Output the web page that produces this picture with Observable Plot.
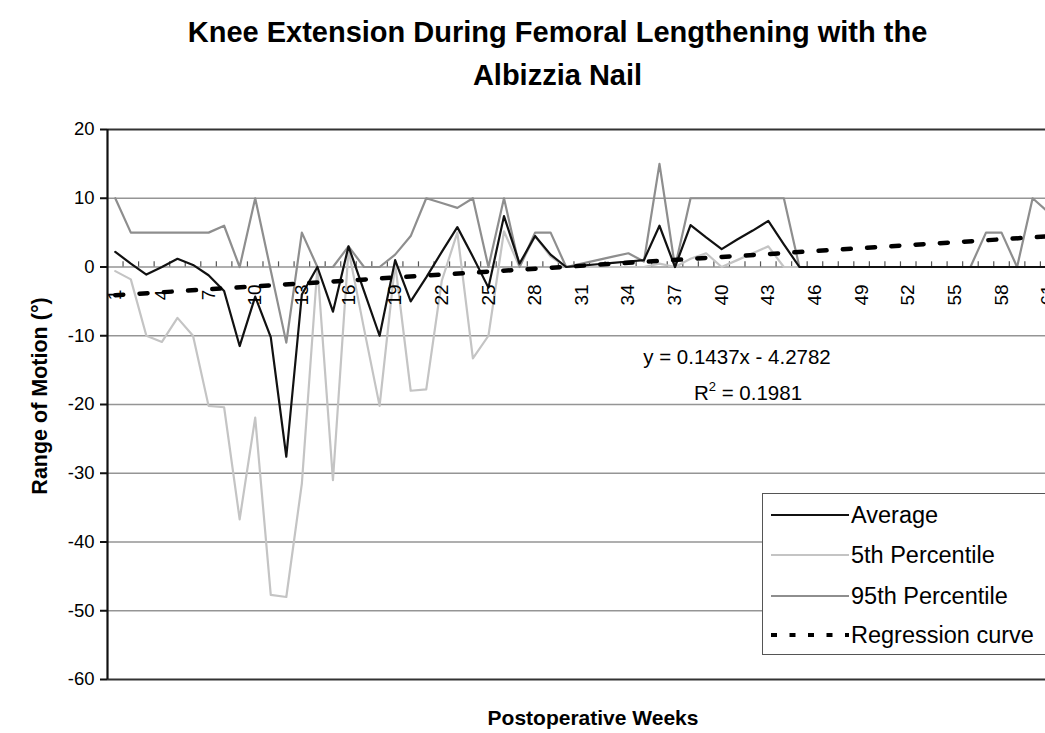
<!DOCTYPE html>
<html><head><meta charset="utf-8">
<script src="https://cdn.jsdelivr.net/npm/d3@7"></script>
<script src="https://cdn.jsdelivr.net/npm/@observablehq/plot@0.6"></script>
<style>
html,body{margin:0;padding:0;overflow:hidden;background:#fff;}
#wrap{position:relative;width:1115px;height:733px;font-family:"Liberation Sans",Arial,sans-serif;color:#000;}
#title{position:absolute;left:0;width:1115px;top:11px;text-align:center;font-weight:bold;font-size:29px;line-height:43px;z-index:2;}
#chart{position:absolute;left:0;top:0;z-index:1;}
.ylab{position:absolute;left:40px;top:396px;transform:translate(-50%,-50%) rotate(-90deg);font-weight:bold;font-size:21.5px;white-space:nowrap;z-index:2;}
.xlab{position:absolute;left:593px;top:718px;transform:translate(-50%,-50%);font-weight:bold;font-size:21px;white-space:nowrap;z-index:2;}
.eq{position:absolute;transform:translate(-50%,-50%);font-size:20.5px;white-space:nowrap;z-index:2;}
.eq sup{font-size:13px;vertical-align:9px;line-height:0;}
#legend{position:absolute;left:762px;top:493px;width:300px;height:162px;border:1.5px solid #555;background:#fff;box-sizing:border-box;z-index:2;}
.lrow{position:absolute;left:8px;height:30px;display:flex;align-items:center;font-size:23.5px;white-space:nowrap;}
.lrow svg{margin-right:2px;}
</style></head><body>
<div id="wrap">
  <div id="chart"></div>
  <div id="title">Knee Extension During Femoral Lengthening with the<br>Albizzia Nail</div>
  <div class="ylab">Range of Motion (°)</div>
  <div class="xlab">Postoperative Weeks</div>
  <div class="eq" style="left:737px;top:357px;">y = 0.1437x - 4.2782</div>
  <div class="eq" style="left:748px;top:393px;">R<sup>2</sup> = 0.1981</div>
  <div id="legend"></div>
</div>
<script>
// ---- data ----
const weeks = d3.range(1, 62); // 1..61
const average = [2.2,0.5,-1.1,0,1.2,0.3,-1.2,-3.5,-11.5,-4.3,-10.2,-27.6,-4,0,-6.5,3,-3.5,-10,1,-5,-1.5,2.2,5.8,1.5,-3,7.4,0.5,4.5,1.8,0,0.2,0.4,0.6,0.8,1,6,0,6.1,4.3,2.6,4,5.3,6.7,3.3,0,0,0,0,0,0,0,0,0,0,0,0,0,0,0,0,0];
const p5 = [-0.6,-1.8,-10,-10.9,-7.4,-10,-20.2,-20.4,-36.7,-21.9,-47.7,-48,-31.5,0,-31,2.5,-9,-20.2,0.5,-18,-17.8,-2,5,-13.3,-10,5.2,0,4.5,1.5,0,0,0,0,0,0,0.5,0,1.2,2,0,1,2,3,0,0,0,0,0,0,0,0,0,0,0,0,0,0,0,0,0,0];
const p95 = [10,5,5,5,5,5,5,6,0,10,-0.5,-11,5,0,0,3,0,0,1.8,4.5,10,9.3,8.6,10,0,10,0,5,5,0,0.5,1,1.5,2,0.8,15,0,10,10,10,10,10,10,10,0,0,0,0,0,0,0,0,0,0,0,0,5,5,0,10,8];
const regression = [{week: 1, value: -4.1}, {week: 62, value: 4.6}];
const xTickLabels = [1,4,7,10,13,16,19,22,25,28,31,34,37,40,43,46,49,52,55,58,61];
const yTicks = [-60,-50,-40,-30,-20,-10,0,10,20];
const gridValues = [-50,-40,-30,-20,-10,0,10];
const categoryCount = 62;
const tickLen = 0.75;

const rows = weeks.map((w, i) => ({week: w, avg: average[i], p5: p5[i], p95: p95[i]}));
const tickPositions = d3.range(1, categoryCount).map(k => k + 0.5);

const chart = Plot.plot({
  width: 1115,
  height: 733,
  marginTop: 129,
  marginBottom: 54,
  marginLeft: 107,
  marginRight: 44,
  style: {fontFamily: '"Liberation Sans", Arial, sans-serif', background: "transparent", color: "#000"},
  x: {domain: [0.5, categoryCount + 0.5], axis: null},
  y: {domain: [-60, 20], axis: null},
  marks: [
    Plot.ruleY(gridValues, {stroke: "#959595", strokeWidth: 1.5}),
    Plot.ruleX(tickPositions, {x: d => d, y1: 0, y2: tickLen, stroke: "#555", strokeWidth: 1.2}),
    Plot.ruleY([20, -60], {stroke: "#333", strokeWidth: 2.2}),
    Plot.ruleX([0.5], {stroke: "#111", strokeWidth: 2.2}),
    Plot.axisY({ticks: yTicks, tickSize: 7, tickPadding: 6, fontSize: 18.5, tickFormat: d => `${d}`, label: null, stroke: "#111", strokeWidth: 2}),
    Plot.line(rows, {x: "week", y: "p5", stroke: "#c4c4c4", strokeWidth: 2.2}),
    Plot.line(rows, {x: "week", y: "p95", stroke: "#8e8e8e", strokeWidth: 2.2}),
    Plot.line(rows, {x: "week", y: "avg", stroke: "#111", strokeWidth: 2.2}),
    Plot.line(regression, {x: "week", y: "value", stroke: "#000", strokeWidth: 4.5, strokeDasharray: "8,16.3"}),
    Plot.text(xTickLabels, {x: d => d, y: 0, text: d => `${d}`, rotate: -90, dy: 28, fontSize: 19, fill: "#000"})
  ]
});
document.getElementById("chart").appendChild(chart);

// ---- legend ----
const legendItems = [
  {label: "Average", stroke: "#111", width: 2, dash: null},
  {label: "5th Percentile", stroke: "#c4c4c4", width: 2, dash: null},
  {label: "95th Percentile", stroke: "#8e8e8e", width: 2, dash: null},
  {label: "Regression curve", stroke: "#000", width: 4, dash: "6,12.5"}
];
const legendTops = [6, 46, 87, 126];
const legend = document.getElementById("legend");
legendItems.forEach((it, i) => {
  const row = document.createElement("div");
  row.className = "lrow";
  row.style.top = legendTops[i] + "px";
  row.innerHTML = `<svg width="78" height="10"><line x1="0" y1="5" x2="78" y2="5" stroke="${it.stroke}" stroke-width="${it.width}" ${it.dash ? `stroke-dasharray="${it.dash}"` : ""}/></svg><span>${it.label}</span>`;
  legend.appendChild(row);
});
</script>
</body></html>
